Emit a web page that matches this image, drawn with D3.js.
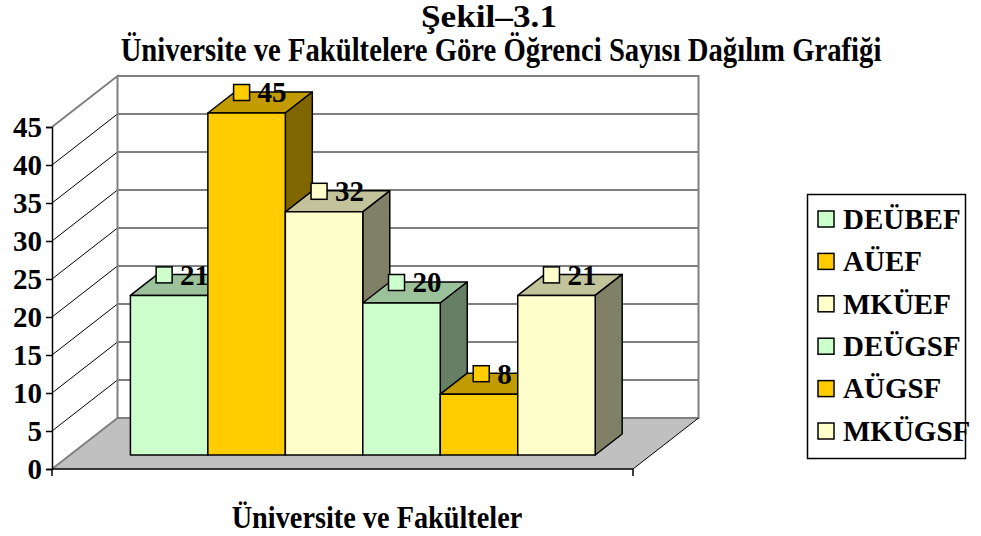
<!DOCTYPE html>
<meta charset="utf-8">
<body style="margin:0; background:#fff;">
   <script src="https://d3js.org/d3.v7.min.js"></script>
   <svg id="chart" width="981" height="536"></svg>
   <script>
      // data
      var series = ["DEÜBEF", "AÜEF", "MKÜEF", "DEÜGSF", "AÜGSF", "MKÜGSF"];
      var values = [21, 45, 32, 20, 8, 21];
      var colors = ["#CCFFCC", "#FFCC00", "#FFFFCC", "#CCFFCC", "#FFCC00", "#FFFFCC"];
      var yTicks = [0, 5, 10, 15, 20, 25, 30, 35, 40, 45];

      var svg = d3.select("#chart");
      var font = "'Liberation Serif', 'Times New Roman', serif";

      // front plane scales, depth is added by proj()
      var y = d3.scaleLinear().domain([0, 45]).range([469, 127]);
      var x = d3.scaleBand().domain(series).range([52, 633])
                .paddingInner(0).paddingOuter(0.75).align(0.52);
      var DX = 65.5, DY = 51;
      var zFront = 14 / 51, zBack = 35 / 51;

      function proj(px, v, z) {
         return [px + z * DX, y(v) - z * DY];
      }
      function poly(pts) {
         return "M" + pts.map(function(p){ return p[0] + "," + p[1]; }).join("L") + "Z";
      }
      function shade(c, k) {
         var r = d3.rgb(c);
         return d3.rgb(r.r * k, r.g * k, r.b * k).formatHex();
      }

      var x0 = 52, x1 = 633;

      // walls
      svg.append("path")
         .attr("d", poly([proj(x0, 0, 1), proj(x0, 45, 1), proj(x1, 45, 1), proj(x1, 0, 1)]))
         .attr("fill", "#fff").attr("stroke", "none");

      // back wall gridlines
      svg.append("g").selectAll("line")
         .data(yTicks.filter(function(d){ return d > 0 && d < 45; }))
         .enter().append("line")
         .attr("x1", function(d){ return proj(x0, d, 1)[0]; })
         .attr("y1", function(d){ return proj(x0, d, 1)[1]; })
         .attr("x2", function(d){ return proj(x1, d, 1)[0]; })
         .attr("y2", function(d){ return proj(x1, d, 1)[1]; })
         .attr("stroke", "#000").attr("stroke-width", 1);

      // side wall diagonals
      svg.append("g").selectAll("line")
         .data(yTicks.filter(function(d){ return d > 0 && d < 45; }))
         .enter().append("line")
         .attr("x1", function(d){ return proj(x0, d, 0)[0]; })
         .attr("y1", function(d){ return proj(x0, d, 0)[1]; })
         .attr("x2", function(d){ return proj(x0, d, 1)[0]; })
         .attr("y2", function(d){ return proj(x0, d, 1)[1]; })
         .attr("stroke", "#000").attr("stroke-width", 1);

      // floor
      svg.append("path")
         .attr("d", poly([proj(x0, 0, 0), proj(x0, 0, 1), proj(x1, 0, 1), proj(x1, 0, 0)]))
         .attr("fill", "#C0C0C0").attr("stroke", "none");

      // gray wall outlines
      var grey = "#808080";
      svg.append("path")
         .attr("d", "M" + proj(x0, 0, 0) + "L" + proj(x0, 0, 1) + "L" + proj(x0, 45, 1) + "L" + proj(x0, 45, 0)
            + "M" + proj(x0, 45, 1) + "L" + proj(x1, 45, 1) + "L" + proj(x1, 0, 1) + "L" + proj(x0, 0, 1))
         .attr("fill", "none").attr("stroke", grey).attr("stroke-width", 2);
      svg.append("line")
         .attr("x1", proj(x1, 0, 0)[0]).attr("y1", proj(x1, 0, 0)[1])
         .attr("x2", proj(x1, 0, 1)[0]).attr("y2", proj(x1, 0, 1)[1])
         .attr("stroke", "#000").attr("stroke-width", 1);

      // axes
      svg.append("line")
         .attr("x1", x0).attr("y1", y(0)).attr("x2", x1).attr("y2", y(0))
         .attr("stroke", "#000").attr("stroke-width", 1.5);
      svg.append("g").selectAll("line").data([x0, x1]).enter().append("line")
         .attr("x1", function(d){ return d; }).attr("x2", function(d){ return d; })
         .attr("y1", y(0)).attr("y2", y(0) + 7)
         .attr("stroke", "#000").attr("stroke-width", 1.5);

      var yAxis = svg.append("g").attr("transform", "translate(" + x0 + ",0)")
         .call(d3.axisLeft(y).tickValues(yTicks).tickSize(6).tickPadding(4).tickFormat(d3.format("d")));
      yAxis.select(".domain").attr("stroke", "#000").attr("stroke-width", 1.5);
      yAxis.selectAll(".tick line").attr("stroke", "#000").attr("stroke-width", 1.5);
      yAxis.selectAll(".tick text")
         .attr("fill", "#000").attr("font-family", font).attr("font-weight", "bold")
         .attr("font-size", 29).attr("dy", "0.34em");

      // bars, each followed by its label
      var barW = x.bandwidth();
      series.forEach(function(s, i) {
         var v = values[i], c = colors[i];
         var l = x(s), r = l + barW;
         var g = svg.append("g");
         // top
         g.append("path")
            .attr("d", poly([proj(l, v, zFront), proj(l, v, zBack), proj(r, v, zBack), proj(r, v, zFront)]))
            .attr("fill", shade(c, 0.76)).attr("stroke", "#000").attr("stroke-width", 1.5)
            .attr("stroke-linejoin", "round");
         // side
         g.append("path")
            .attr("d", poly([proj(r, 0, zFront), proj(r, v, zFront), proj(r, v, zBack), proj(r, 0, zBack)]))
            .attr("fill", shade(c, 0.5)).attr("stroke", "#000").attr("stroke-width", 1.5)
            .attr("stroke-linejoin", "round");
         // front
         g.append("path")
            .attr("d", poly([proj(l, 0, zFront), proj(l, v, zFront), proj(r, v, zFront), proj(r, 0, zFront)]))
            .attr("fill", c).attr("stroke", "#000").attr("stroke-width", 1.5)
            .attr("stroke-linejoin", "round");

         // label: marker + value, centred over the top face
         var mid = proj((l + r) / 2, v, (zFront + zBack) / 2);
         var cy = mid[1] - 10;
         var lab = g.append("g");
         var t = lab.append("text")
            .attr("x", 0).attr("y", cy).attr("dy", "0.34em")
            .attr("font-family", font).attr("font-weight", "bold").attr("font-size", 29)
            .text(v);
         var tw = t.node().getComputedTextLength();
         var total = 16 + 8 + tw;
         var left = mid[0] - total / 2;
         lab.insert("rect", "text")
            .attr("x", left).attr("y", cy - 8).attr("width", 16).attr("height", 16)
            .attr("fill", c).attr("stroke", "#000").attr("stroke-width", 1.5);
         t.attr("x", left + 24);
      });

      // titles (slightly stretched vertically, like the original)
      svg.append("text").attr("x", 489).attr("y", 27).attr("text-anchor", "middle")
         .attr("font-family", font).attr("font-weight", "bold").attr("font-size", 31)
         .attr("textLength", 136).attr("lengthAdjust", "spacingAndGlyphs")
         .text("Şekil–3.1");
      svg.append("text")
         .attr("transform", "translate(501,61) scale(1,1.15)")
         .attr("text-anchor", "middle")
         .attr("font-family", font).attr("font-weight", "bold").attr("font-size", 28.7)
         .text("Üniversite ve Fakültelere Göre Öğrenci Sayısı Dağılım Grafiği");
      svg.append("text")
         .attr("transform", "translate(377,528) scale(1,1.1)")
         .attr("text-anchor", "middle")
         .attr("font-family", font).attr("font-weight", "bold").attr("font-size", 28.3)
         .text("Üniversite ve Fakülteler");

      // legend
      var legend = svg.append("g");
      legend.append("rect").attr("x", 807.5).attr("y", 194.5).attr("width", 158).attr("height", 264)
         .attr("fill", "#fff").attr("stroke", "#000").attr("stroke-width", 1.5);
      var items = legend.selectAll("g.item").data(series).enter().append("g")
         .attr("transform", function(d, i){ return "translate(0," + (219 + i * 42.4) + ")"; });
      items.append("rect").attr("x", 818).attr("y", -8).attr("width", 16).attr("height", 16)
         .attr("fill", function(d, i){ return colors[i]; })
         .attr("stroke", "#000").attr("stroke-width", 1.5);
      items.append("text").attr("x", 843).attr("y", 0).attr("dy", "0.34em")
         .attr("font-family", font).attr("font-weight", "bold").attr("font-size", 29)
         .text(function(d){ return d; });
   </script>
</body>
